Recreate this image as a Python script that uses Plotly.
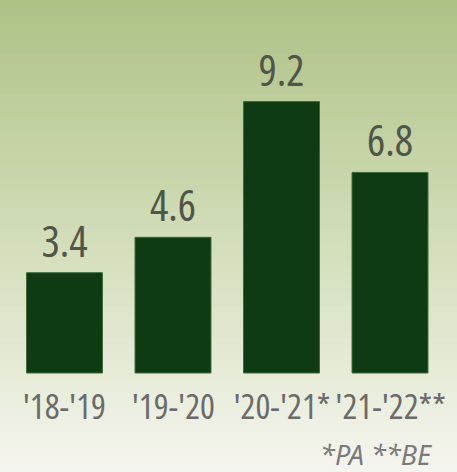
import plotly.graph_objects as go

categories = ["'18-'19", "'19-'20", "'20-'21*", "'21-'22**"]
values = [3.4, 4.6, 9.2, 6.8]
value_labels = ["3.4", "4.6", "9.2", "6.8"]
footnote = "*PA **BE"

W, H = 457, 472
FONT = "Open Sans"

PITCH = 108.5     # px per category
PXU = 29.5        # px per value unit
BASE = 373        # baseline y px from top
C0 = 64.5         # centre of first bar px

fig = go.Figure()
fig.add_trace(go.Bar(
    x=list(range(len(categories))), y=values,
    marker=dict(color="#0e3b13", line=dict(color="#3d6a35", width=1)),
    text=value_labels, textposition="outside", cliponaxis=False,
    textfont=dict(family=FONT, size=43, color="#4f5548"),
    width=0.70, hoverinfo="skip",
))

# background vertical gradient
top = (174, 194, 134)
mid = (214, 224, 190)
bot = (246, 246, 240)
N = 60
shapes = []
for i in range(N):
    t = (i + 0.5) / N
    if t < 0.55:
        u = t / 0.55
        c = tuple(int(top[k] + (mid[k] - top[k]) * u) for k in range(3))
    else:
        u = (t - 0.55) / 0.45
        c = tuple(int(mid[k] + (bot[k] - mid[k]) * u) for k in range(3))
    shapes.append(dict(type="rect", xref="paper", yref="paper",
                       x0=0, x1=1, y0=1 - (i + 1) / N - 0.002, y1=1 - i / N,
                       line=dict(width=0), fillcolor="rgb(%d,%d,%d)" % c, layer="below"))

annotations = []
for i, lab in enumerate(categories):
    annotations.append(dict(text=lab, x=i, y=-(405 - BASE) / PXU, xref="x", yref="y",
                            xanchor="center", yanchor="middle", showarrow=False,
                            font=dict(family=FONT, size=35, color="#6b6b6b")))
annotations.append(dict(text="<i>" + footnote + "</i>", x=1 - (457 - 434) / W, y=1 - 454 / H,
                        xref="paper", yref="paper", xanchor="right", yanchor="middle",
                        showarrow=False,
                        font=dict(family="Noto Sans", size=27, color="#7a7a7a")))

fig.update_layout(
    width=W, height=H,
    margin=dict(l=0, r=0, t=0, b=0, pad=0),
    paper_bgcolor="#f4f4ee", plot_bgcolor="rgba(0,0,0,0)",
    shapes=shapes, annotations=annotations,
    showlegend=False,
    xaxis=dict(range=[-C0 / PITCH, (W - C0) / PITCH], visible=False, fixedrange=True),
    yaxis=dict(range=[-(H - BASE) / PXU, BASE / PXU], visible=False, fixedrange=True),
)

post = ("var s=document.createElement('style');"
        "s.textContent='html,body{margin:0;padding:0;overflow:hidden} svg text{font-stretch:75% !important;}';"
        "document.head.appendChild(s);"
        "var gd=document.getElementById('{plot_id}');"
        "Plotly.newPlot(gd, gd.data, gd.layout, {displayModeBar:false, staticPlot:true});")
fig.write_html("out.html", post_script=post, config={"displayModeBar": False})
